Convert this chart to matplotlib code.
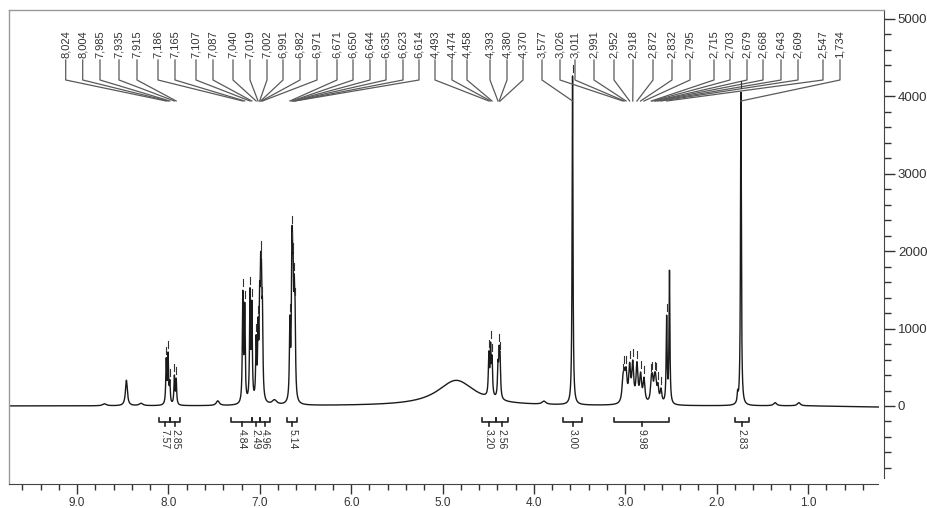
import numpy as np
import matplotlib
matplotlib.use("Agg")
import matplotlib.pyplot as plt
from matplotlib.ticker import FixedLocator, FormatStrFormatter

plt.rcParams['font.family'] = ['Liberation Sans', 'DejaVu Sans']

# ---------------- data ----------------
# peak list: centre (ppm), height (a.u.), full width at half height (ppm)
peak_ppm = [8.46, 8.024, 8.004, 7.985, 7.935, 7.915,
            7.186, 7.165, 7.107, 7.087, 7.040, 7.019, 7.002, 6.991, 6.982, 6.971,
            6.671, 6.650, 6.644, 6.635, 6.623, 6.614,
            4.85,
            4.493, 4.474, 4.458, 4.393, 4.380, 4.370,
            3.577,
            3.026, 3.011, 2.991, 2.952, 2.918, 2.872, 2.832, 2.795,
            2.715, 2.703, 2.679, 2.668, 2.643, 2.609, 2.547, 2.516,
            1.770, 1.734,
            8.70, 8.30, 7.46, 6.84, 3.89, 1.36, 1.10]
peak_height = [330, 560, 620, 260, 360, 320,
               1380, 1200, 1380, 1200, 750, 850, 1050, 1250, 1150, 950,
               960, 1200, 1200, 1120, 1040, 880,
               330,
               520, 600, 450, 380, 500, 430,
               4250,
               230, 280, 340, 440, 480, 480, 340, 300,
               230, 230, 220, 220, 200, 170, 1100, 1700,
               120, 4050,
               25, 30, 60, 60, 40, 40, 40]
peak_width = [0.025, 0.012, 0.012, 0.012, 0.012, 0.012,
              0.012, 0.012, 0.012, 0.012, 0.012, 0.012, 0.012, 0.012, 0.012, 0.012,
              0.012, 0.012, 0.012, 0.012, 0.012, 0.012,
              0.50,
              0.013, 0.013, 0.013, 0.013, 0.013, 0.013,
              0.011,
              0.024, 0.024, 0.024, 0.024, 0.024, 0.024, 0.024, 0.024,
              0.022, 0.022, 0.022, 0.022, 0.022, 0.022, 0.012, 0.011,
              0.012, 0.011,
              0.05, 0.05, 0.04, 0.06, 0.05, 0.04, 0.04]

# peak-pick labels
label_ppm = [8.024, 8.004, 7.985, 7.935, 7.915, 7.186, 7.165, 7.107, 7.087,
             7.040, 7.019, 7.002, 6.991, 6.982, 6.971, 6.671, 6.650, 6.644,
             6.635, 6.623, 6.614, 4.493, 4.474, 4.458, 4.393, 4.380, 4.370,
             3.577, 3.026, 3.011, 2.991, 2.952, 2.918, 2.872, 2.832, 2.795,
             2.715, 2.703, 2.679, 2.668, 2.643, 2.609, 2.547, 1.734]
label_text = [f"{v:.3f}".replace('.', ',') for v in label_ppm]

# integrals: start ppm, end ppm, value
integ_start = [8.10, 7.98, 7.31, 7.09, 7.00, 6.70, 4.57, 4.42, 3.68, 3.12, 1.80]
integ_end = [7.98, 7.87, 7.09, 7.00, 6.89, 6.59, 4.42, 4.28, 3.47, 2.52, 1.65]
integ_value = ["7.57", "2.85", "4.84", "2.49", "4.96", "5.14", "3.20", "2.56",
               "3.00", "9.98", "2.83"]

x_ticks = [9.0, 8.0, 7.0, 6.0, 5.0, 4.0, 3.0, 2.0, 1.0]
y_ticks = [0, 1000, 2000, 3000, 4000, 5000]

# ---------------- layout helpers ----------------
W, H = 928, 508
XL, XR = 9.745, 0.168
YB, YT = -1008, 5116
ax_px = (9, 10, 884, 484)  # left, top, right, bottom in pixels


def px_to_ppm(px):
    return XL + (px - ax_px[0]) / (ax_px[2] - ax_px[0]) * (XR - XL)


def py_to_val(py):
    return YB + (ax_px[3] - py) / (ax_px[3] - ax_px[1]) * (YT - YB)


PXV = (YT - YB) / (ax_px[3] - ax_px[1])  # value per pixel

fig = plt.figure(figsize=(W / 100, H / 100), dpi=100)
ax = fig.add_axes([ax_px[0] / W, 1 - ax_px[3] / H,
                   (ax_px[2] - ax_px[0]) / W, (ax_px[3] - ax_px[1]) / H])

# spectrum
x = np.linspace(XL, 0.23, 24000)
y = np.zeros_like(x)
for c, h, w in zip(peak_ppm, peak_height, peak_width):
    g = w / 2
    y += h * g**2 / ((x - c)**2 + g**2)
y -= 15 * np.clip((1.0 - x) / 0.8, 0, 1)
ax.plot(x, y, color='#1a1a1a', lw=1.0)


def spec(v):
    return np.interp(v, x[::-1], y[::-1])


# peak-pick markers and leader lines
label_px = [65.7, 82.7, 100, 119, 137, 158, 175, 196, 213, 233, 250, 267, 283,
            300, 317, 337, 353, 370, 386, 403, 419, 435, 452, 467, 490, 507, 523,
            542, 560, 575, 594, 614, 633, 653, 672, 690, 714, 730, 747, 763, 781,
            798, 823, 840]
lc = '#5a5a5a'
for p, t, lp in zip(label_ppm, label_text, label_px):
    lx = px_to_ppm(lp)
    ax.text(lx, py_to_val(58), t, rotation=90, ha='center', va='bottom',
            fontsize=8, color='#333333')
    ax.plot([lx, lx, p], [py_to_val(60), py_to_val(80), py_to_val(101)],
            color=lc, lw=0.9, clip_on=False)
    top = spec(p)
    ax.plot([p, p], [top + 4 * PXV, top + 11 * PXV], color='#333333', lw=0.8)

# integrals
for s, e, v in zip(integ_start, integ_end, integ_value):
    m = (s + e) / 2
    yb = py_to_val(421.5)
    ax.plot([s, s, e, e], [py_to_val(417.5), yb, yb, py_to_val(417.5)],
            color='#222222', lw=1.2)
    ax.plot([m, m], [yb, py_to_val(426)], color='#222222', lw=1.2)
    ax.text(m, py_to_val(429), v, rotation=270, ha='center', va='top',
            fontsize=7.5, color='#333333')

# axes styling
ax.set_xlim(XL, XR)
ax.set_ylim(YB, YT)
ax.yaxis.tick_right()
ax.set_yticks(y_ticks)
ax.yaxis.set_minor_locator(FixedLocator(np.arange(-800, 5001, 200)))
ax.set_xticks(x_ticks)
ax.xaxis.set_major_formatter(FormatStrFormatter('%.1f'))
ax.xaxis.set_minor_locator(FixedLocator(np.arange(0.4, 9.61, 0.2)))
ax.tick_params(axis='x', which='major', length=7, width=1, color='#333333',
               labelsize=8.5, labelcolor='#333333', pad=2)
ax.tick_params(axis='x', which='minor', length=4, width=1, color='#333333')
ax.tick_params(axis='y', which='major', length=8, width=1, color='#333333',
               labelsize=9.5, labelcolor='#333333', pad=2)
ax.tick_params(axis='y', which='minor', length=5, width=1, color='#333333')
for s in ('top', 'left'):
    ax.spines[s].set_color('#9a9a9a')
    ax.spines[s].set_linewidth(1)
ax.spines['right'].set_color('#444444')
ax.spines['right'].set_bounds(-930, YT)
ax.spines['bottom'].set_color('#444444')
ax.spines['bottom'].set_bounds(XL, 0.233)

fig.savefig('out.png', dpi=100)
